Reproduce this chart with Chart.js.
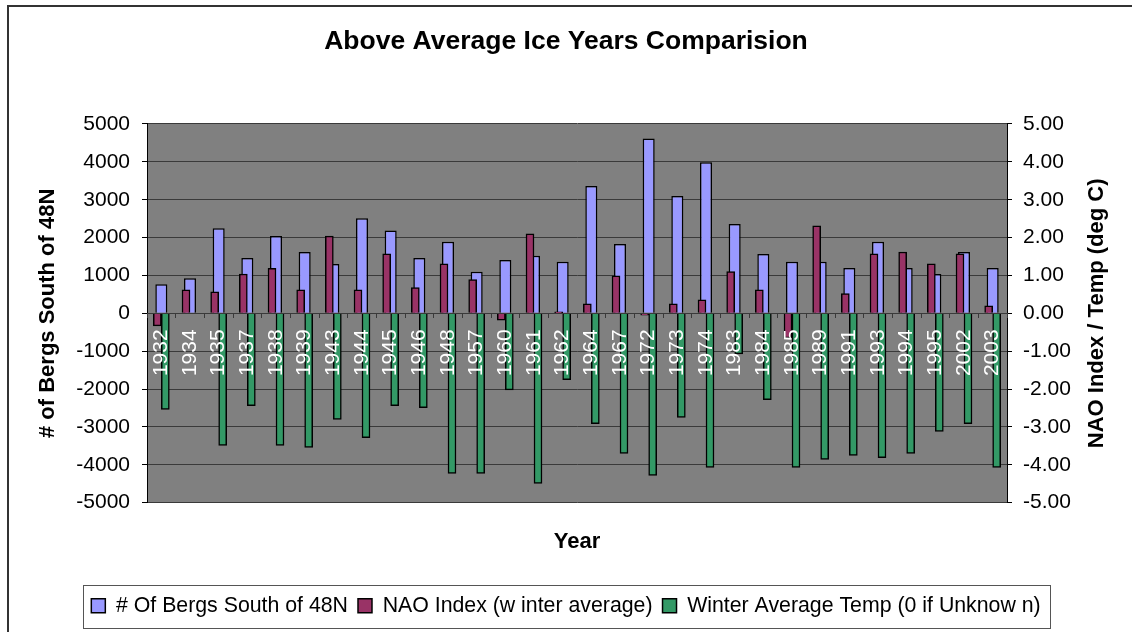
<!DOCTYPE html>
<html>
<head>
<meta charset="utf-8">
<title>Above Average Ice Years Comparision</title>
<script src="https://cdn.jsdelivr.net/npm/chart.js@4.4.1/dist/chart.umd.min.js"></script>
<style>
    html, body { margin: 0; padding: 0; background: #fff; }
    #wrap { position: relative; width: 1132px; height: 632px; }
</style>
</head>
<body>
<div id="wrap"><canvas id="chart" width="1132" height="632"></canvas></div>
<script>
(function () {
    'use strict';

    // Data
    var YEARS = ['1932', '1934', '1935', '1937', '1938', '1939', '1943', '1944', '1945', '1946',
        '1948', '1957', '1960', '1961', '1962', '1964', '1967', '1972', '1973', '1974',
        '1983', '1984', '1985', '1989', '1991', '1993', '1994', '1995', '2002', '2003'];
    var BERGS = [770, 930, 2250, 1460, 2040, 1620, 1300, 2510, 2190, 1460,
        1890, 1100, 1410, 1520, 1360, 3360, 1830, 4620, 3100, 3990,
        2360, 1570, 1360, 1360, 1200, 1890, 1200, 1040, 1620, 1200];
    var NAO = [-0.33, 0.62, 0.57, 1.04, 1.19, 0.62, 2.04, 0.62, 1.57, 0.68,
        1.31, 0.89, -0.18, 2.10, 0.04, 0.25, 0.99, -0.05, 0.25, 0.36,
        1.10, 0.62, -0.65, 2.31, 0.52, 1.57, 1.62, 1.31, 1.57, 0.20];
    var TEMP = [-2.54, 0, -3.49, -2.44, -3.49, -3.54, -2.80, -3.28, -2.44, -2.49,
        -4.23, -4.23, -2.02, -4.49, -1.75, -2.91, -3.70, -4.28, -2.75, -4.07,
        -1.07, -2.28, -4.07, -3.86, -3.75, -3.81, -3.70, -3.12, -2.91, -4.07];

    var TITLE = 'Above Average Ice Years Comparision';
    var LEFT_TITLE = '# of Bergs South of 48N';
    var RIGHT_TITLE = 'NAO Index / Temp (deg C)';
    var X_TITLE = 'Year';
    var SERIES_NAMES = ['# Of Bergs South of 48N', 'NAO Index (w inter average)', 'Winter Average Temp (0 if Unknow n)'];

    var FONT = 'Arial, "Liberation Sans", sans-serif';
    var GRID = '#3a3a3a';

    var frame = {
        id: 'frame',
        beforeDraw: function (chart) {
            var ctx = chart.ctx;
            var a = chart.chartArea;
            ctx.save();
            ctx.fillStyle = '#ffffff';
            ctx.fillRect(0, 0, chart.width, chart.height);
            ctx.strokeStyle = '#333333';
            ctx.lineWidth = 2;
            ctx.strokeRect(8, 6, chart.width + 40, chart.height + 40);
            ctx.fillStyle = '#808080';
            ctx.fillRect(a.left, a.top, a.right - a.left, a.bottom - a.top);
            ctx.restore();
        },
        afterDraw: function (chart) {
            var ctx = chart.ctx;
            var a = chart.chartArea;
            ctx.save();
            // right axis title, reading bottom to top like the left one
            ctx.translate(1097, (a.top + a.bottom) / 2);
            ctx.rotate(-Math.PI / 2);
            ctx.font = 'bold 22px ' + FONT;
            ctx.fillStyle = '#000';
            ctx.textAlign = 'center';
            ctx.textBaseline = 'middle';
            ctx.fillText(RIGHT_TITLE, 0, 0);
            ctx.restore();

            // box round the legend
            var boxes = chart.legend && chart.legend.legendHitBoxes;
            if (boxes && boxes.length) {
                var first = boxes[0];
                var last = boxes[boxes.length - 1];
                var cy = first.top + first.height / 2;
                ctx.save();
                ctx.strokeStyle = '#555555';
                ctx.lineWidth = 1;
                ctx.strokeRect(Math.round(first.left - 8) + 0.5, Math.round(cy - 21) + 0.5,
                    Math.round(last.left + last.width - first.left + 18), 43);
                ctx.restore();
            }
        }
    };

    new Chart(document.getElementById('chart'), {
        type: 'bar',
        data: {
            labels: YEARS,
            datasets: [
                {
                    label: SERIES_NAMES[0],
                    data: BERGS,
                    xAxisID: 'x',
                    yAxisID: 'y',
                    backgroundColor: '#9999ff',
                    borderColor: '#000000',
                    borderWidth: 1.5,
                    grouped: false,
                    categoryPercentage: 1,
                    barPercentage: 0.42,
                    order: 2
                },
                {
                    label: SERIES_NAMES[1],
                    data: NAO,
                    xAxisID: 'x2',
                    yAxisID: 'y1',
                    backgroundColor: '#993366',
                    borderColor: '#000000',
                    borderWidth: 1.5,
                    barThickness: 8,
                    order: 1
                },
                {
                    label: SERIES_NAMES[2],
                    data: TEMP,
                    xAxisID: 'x2',
                    yAxisID: 'y1',
                    backgroundColor: '#339966',
                    borderColor: '#000000',
                    borderWidth: 1.5,
                    barThickness: 8,
                    order: 1
                }
            ]
        },
        options: {
            responsive: false,
            animation: false,
            events: [],
            layout: { padding: { left: 0, right: 0, top: 0, bottom: 5.5 } },
            plugins: {
                title: {
                    display: true,
                    text: TITLE,
                    color: '#000',
                    font: { family: FONT, size: 26.5, weight: 'bold' },
                    padding: { top: 26.1, bottom: 66.1 }
                },
                legend: {
                    position: 'bottom',
                    labels: {
                        color: '#000',
                        font: { family: FONT, size: 21.3 },
                        boxWidth: 14,
                        boxHeight: 14,
                        padding: 10,
                        sort: function (a, b) { return a.datasetIndex - b.datasetIndex; }
                    }
                },
                tooltip: { enabled: false }
            },
            scales: {
                x: {
                    type: 'category',
                    position: { y: 0 },
                    offset: true,
                    grid: {
                        offset: true,
                        drawOnChartArea: false,
                        drawTicks: true,
                        tickLength: 4,
                        tickColor: GRID,
                        z: 1
                    },
                    border: { display: true, color: GRID, z: 1 },
                    ticks: {
                        color: '#ffffff',
                        font: { family: FONT, size: 21 },
                        minRotation: 90,
                        maxRotation: 90,
                        autoSkip: false,
                        padding: 12,
                        z: 1
                    }
                },
                x2: {
                    type: 'category',
                    position: 'bottom',
                    offset: true,
                    grid: { display: false, offset: true },
                    border: { display: false },
                    ticks: { display: false, autoSkip: false },
                    title: {
                        display: true,
                        text: X_TITLE,
                        color: '#000',
                        font: { family: FONT, size: 22, weight: 'bold' },
                        padding: { top: 0, bottom: 30.3 }
                    },
                    afterFit: function (scale) { scale.height = 82.5; }
                },
                y: {
                    position: 'left',
                    min: -5000,
                    max: 5000,
                    ticks: {
                        stepSize: 1000,
                        color: '#000',
                        font: { family: FONT, size: 21 },
                        padding: 12,
                        callback: function (v) { return String(v); }
                    },
                    grid: {
                        color: GRID,
                        tickColor: '#000',
                        tickLength: 5
                    },
                    border: { display: true, color: '#000' },
                    title: {
                        display: true,
                        text: LEFT_TITLE,
                        color: '#000',
                        font: { family: FONT, size: 22, weight: 'bold' },
                        padding: { top: 34.8, bottom: 0 }
                    },
                    afterFit: function (scale) { scale.width = 147; }
                },
                y1: {
                    position: 'right',
                    min: -5,
                    max: 5,
                    ticks: {
                        stepSize: 1,
                        color: '#000',
                        font: { family: FONT, size: 21 },
                        padding: 11,
                        callback: function (v) { return Number(v).toFixed(2); }
                    },
                    grid: {
                        drawOnChartArea: false,
                        tickColor: '#000',
                        tickLength: 5
                    },
                    border: { display: true, color: '#000' },
                    afterFit: function (scale) { scale.width = 125; }
                }
            }
        },
        plugins: [frame]
    });
})();
</script>
</body>
</html>
